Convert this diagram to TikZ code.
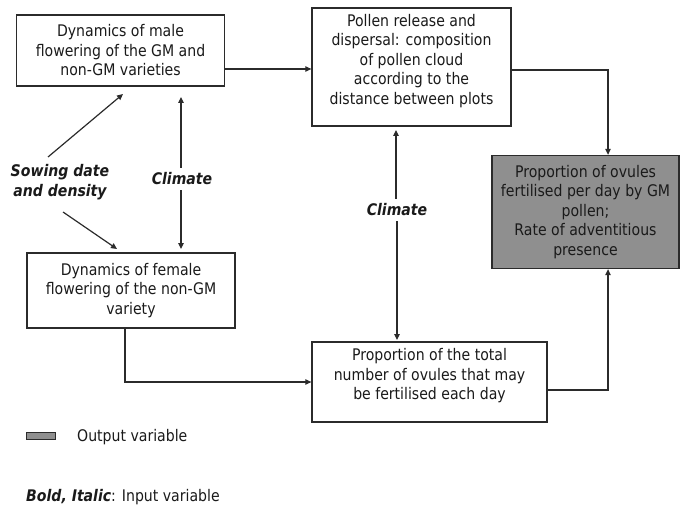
\documentclass[tikz,border=0pt]{standalone}
\usepackage{fontspec}
\setmainfont{DejaVu Sans}[FakeStretch=0.88]
\usetikzlibrary{arrows.meta}
\definecolor{edge}{HTML}{2B2B2B}
\definecolor{ink}{HTML}{1A1A1A}
\definecolor{outgray}{HTML}{8F8F8F}
\begin{document}
\begin{tikzpicture}[x=1pt,y=-1pt,
  txt/.style={font=\fontsize{16}{19.5}\selectfont, text=ink},
  box/.style={txt, draw=edge, line width=1.3pt, align=center, inner sep=0pt},
  inp/.style={font=\fontsize{16}{19.5}\selectfont\bfseries\itshape, text=ink,
              align=center, inner xsep=0pt, inner ysep=5pt},
  arr/.style={draw=edge, line width=1.2pt, -{Triangle[length=6pt,width=5.5pt]}}]
\useasboundingbox (0,0) rectangle (686,508);

% process boxes
\node[box, minimum width=208pt, minimum height=71pt] (male) at (120.5,50.5)
  {Dynamics of male\\flowering of the GM and\\non-GM varieties};
\node[box, minimum width=199pt, minimum height=118pt] (pollen) at (411.5,67)
  {Pollen release and\\dispersal: composition\\of pollen cloud\\according to the\\distance between plots\\[-4pt]};
\node[box, fill=outgray, minimum width=187pt, minimum height=113pt] (out) at (585.5,212)
  {Proportion of ovules\\fertilised per day by GM\\pollen;\\Rate of adventitious\\presence};
\node[box, minimum width=208pt, minimum height=75pt] (female) at (131,290.5)
  {Dynamics of female\\flowering of the non-GM\\variety};
\node[box, minimum width=235pt, minimum height=80pt] (prop) at (429.5,382)
  {Proportion of the total\\number of ovules that may\\be fertilised each day\\[-4pt]};

% input variables
\node[inp] (sow) at (60,182) {Sowing date\\and density};
\node[inp] (clim1) at (182,179) {Climate};
\node[inp] (clim2) at (397,210) {Climate};

% bends and free ends of connectors
\coordinate (bend1) at (608,70);
\coordinate (bend2) at (608,390);
\coordinate (bend3) at (125,382);
\coordinate (flow) at (0,69);
\coordinate (c1top) at (181,97);
\coordinate (c1bot) at (181,249);
\coordinate (c2top) at (396,130);
\coordinate (c2bot) at (397,340);
\coordinate (s1a) at (48,157);
\coordinate (s1b) at (123,94);
\coordinate (s2a) at (63,212);
\coordinate (s2b) at (117,249);

% connectors
\draw[arr] (male.east |- flow) -- (pollen.west |- flow);
\draw[arr] (pollen.east |- bend1) -- (bend1) -- (bend1 |- out.north);
\draw[arr] (prop.east |- bend2) -- (bend2) -- (bend2 |- out.south);
\draw[arr] (bend3 |- female.south) -- (bend3) -- (bend3 -| prop.west);
\draw[arr] (c1top |- clim1.north) -- (c1top);
\draw[arr] (c1bot |- clim1.south) -- (c1bot);
\draw[arr] (c2top |- clim2.north) -- (c2top);
\draw[arr] (c2bot |- clim2.south) -- (c2bot);
\draw[arr] (s1a) -- (s1b);
\draw[arr] (s2a) -- (s2b);

% legend
\node[draw=edge, fill=outgray, line width=1pt, inner sep=0pt,
      minimum width=29pt, minimum height=7pt] (legbox) at (40.5,435.5) {};
\node[txt, anchor=west, inner sep=0pt] (legout) at (77,437) {Output variable};
\node[txt, anchor=west, inner sep=0pt] (legin) at (26,497)
  {\textbf{\textit{Bold, Italic}}: Input variable};
\end{tikzpicture}
\end{document}
